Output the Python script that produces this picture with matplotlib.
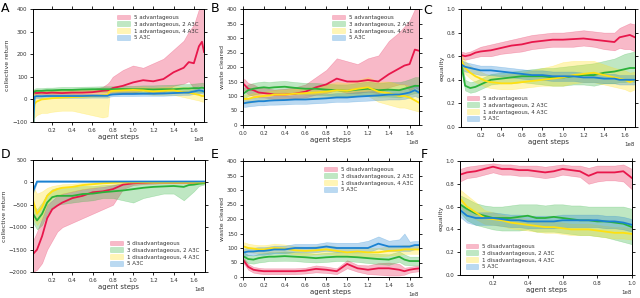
import matplotlib
matplotlib.use('Agg')
import matplotlib.pyplot as plt

# ---- data (x in units of 1e8 agent steps) ----
adv_labels = ['5 advantageous', '3 advantageous, 2 A3C', '1 advantageous, 4 A3C', '5 A3C']
dis_labels = ['5 disadvantageous', '3 disadvantageous, 2 A3C', '1 disadvantageous, 4 A3C', '5 A3C']

# panel A: collective return, advantageous
xa = [0.02, 0.03, 0.05, 0.1, 0.15, 0.2, 0.3, 0.4, 0.5, 0.6, 0.7, 0.75, 0.77, 0.8, 0.9, 1.0, 1.1, 1.2, 1.3, 1.4, 1.5, 1.55, 1.6, 1.65, 1.68, 1.7]
a_red = [30, 30, 28, 30, 28, 30, 28, 30, 30, 32, 38, 40, 42, 50, 60, 75, 85, 80, 90, 120, 140, 165, 160, 235, 255, 210]
a_red_lo = [20, 22, 20, 22, 20, 22, 20, 22, 22, 24, 25, 25, 27, 30, 25, 30, 40, 25, 30, 60, 70, 80, 50, 60, 60, 60]
a_red_hi = [40, 40, 38, 40, 38, 40, 38, 40, 42, 45, 55, 70, 80, 100, 130, 150, 140, 160, 180, 220, 260, 300, 330, 400, 420, 420]
a_grn = [30, 35, 38, 38, 40, 40, 42, 42, 44, 45, 45, 45, 45, 45, 46, 45, 45, 44, 45, 45, 48, 48, 50, 50, 52, 50]
a_grn_lo = [18, 22, 26, 26, 28, 28, 30, 30, 32, 33, 33, 33, 32, 32, 33, 32, 30, 28, 28, 28, 30, 30, 32, 30, 32, 30]
a_grn_hi = [42, 48, 50, 50, 52, 52, 55, 55, 56, 57, 58, 58, 58, 58, 60, 60, 62, 62, 64, 65, 68, 68, 70, 72, 74, 72]
a_yel = [-100, -20, -10, 0, 2, 5, 8, 10, 12, 14, 18, 20, 35, 38, 40, 42, 40, 35, 38, 40, 32, 30, 25, 20, 15, 15]
a_yel_lo = [-100, -80, -70, -60, -60, -55, -50, -50, -60, -70, -80, -75, 25, 25, 28, 30, 25, 20, 20, 20, 10, 5, 0, -5, -10, -10]
a_yel_hi = [30, 30, 35, 38, 40, 42, 45, 45, 45, 45, 45, 45, 45, 48, 50, 52, 55, 52, 55, 58, 55, 55, 50, 45, 40, 40]
a_blu = [-100, 12, 14, 14, 15, 15, 15, 15, 15, 16, 16, 16, 20, 22, 24, 24, 25, 25, 26, 28, 30, 30, 35, 40, 38, 35]
a_blu_lo = [-100, 5, 6, 6, 7, 7, 7, 7, 7, 8, 8, 8, 12, 14, 15, 15, 16, 16, 16, 18, 20, 20, 24, 28, 26, 24]
a_blu_hi = [-90, 20, 22, 22, 23, 23, 23, 23, 23, 24, 24, 24, 28, 30, 33, 33, 34, 34, 36, 38, 40, 40, 46, 52, 50, 46]

# shared x grid for B-E
xs = [0.01, 0.05, 0.1, 0.15, 0.2, 0.25, 0.3, 0.4, 0.5, 0.6, 0.7, 0.8, 0.9, 1.0, 1.1, 1.2, 1.3, 1.4, 1.5, 1.55, 1.6, 1.65, 1.7]

# panel B: waste cleared, advantageous
b_red = [140, 125, 120, 112, 110, 108, 105, 105, 108, 115, 130, 140, 160, 150, 150, 155, 150, 175, 195, 205, 210, 260, 255]
b_red_lo = [120, 105, 100, 95, 95, 92, 90, 90, 92, 95, 105, 110, 120, 110, 110, 115, 110, 130, 140, 140, 120, 130, 120]
b_red_hi = [160, 145, 140, 130, 128, 125, 122, 125, 130, 140, 165, 190, 230, 220, 210, 230, 240, 290, 320, 340, 360, 400, 420]
b_grn = [110, 120, 125, 128, 130, 128, 130, 132, 128, 125, 125, 122, 120, 118, 122, 125, 120, 122, 120, 125, 130, 135, 135]
b_grn_lo = [92, 100, 105, 108, 110, 108, 110, 112, 108, 105, 105, 102, 100, 98, 100, 102, 98, 98, 95, 100, 105, 110, 110]
b_grn_hi = [128, 140, 145, 148, 150, 148, 150, 152, 148, 145, 145, 142, 140, 140, 145, 150, 145, 148, 148, 152, 158, 165, 165]
b_yel = [90, 90, 95, 98, 100, 102, 105, 105, 108, 110, 112, 115, 120, 118, 125, 130, 115, 110, 100, 100, 95, 85, 75]
b_yel_lo = [75, 75, 80, 82, 85, 85, 88, 88, 90, 90, 92, 95, 95, 95, 100, 100, 80, 70, 60, 60, 55, 50, 45]
b_yel_hi = [105, 105, 110, 112, 115, 118, 120, 122, 125, 128, 132, 140, 148, 145, 155, 165, 150, 150, 140, 140, 135, 125, 110]
b_blu = [75, 78, 80, 82, 82, 84, 85, 86, 88, 88, 90, 92, 95, 95, 98, 100, 102, 105, 105, 108, 112, 120, 110]
b_blu_lo = [62, 64, 66, 68, 68, 70, 70, 71, 73, 73, 75, 77, 80, 80, 82, 84, 86, 88, 88, 90, 94, 100, 92]
b_blu_hi = [88, 92, 94, 96, 96, 98, 100, 101, 103, 103, 105, 107, 110, 110, 114, 116, 118, 122, 122, 126, 130, 140, 128]

# panel C: equality, advantageous
c_red = [0.61, 0.60, 0.61, 0.63, 0.64, 0.645, 0.65, 0.67, 0.69, 0.70, 0.72, 0.73, 0.74, 0.74, 0.745, 0.75, 0.74, 0.73, 0.72, 0.76, 0.77, 0.78, 0.76]
c_red_lo = [0.58, 0.57, 0.58, 0.59, 0.60, 0.60, 0.60, 0.62, 0.63, 0.64, 0.66, 0.67, 0.68, 0.68, 0.68, 0.69, 0.68, 0.66, 0.65, 0.67, 0.66, 0.66, 0.64]
c_red_hi = [0.64, 0.63, 0.64, 0.66, 0.68, 0.69, 0.70, 0.72, 0.74, 0.76, 0.78, 0.79, 0.80, 0.80, 0.81, 0.82, 0.81, 0.80, 0.80, 0.84, 0.86, 0.88, 0.87]
c_grn = [0.55, 0.35, 0.33, 0.34, 0.36, 0.38, 0.40, 0.41, 0.42, 0.43, 0.43, 0.43, 0.42, 0.42, 0.43, 0.44, 0.44, 0.46, 0.47, 0.48, 0.49, 0.50, 0.50]
c_grn_lo = [0.50, 0.31, 0.29, 0.30, 0.32, 0.34, 0.36, 0.37, 0.37, 0.38, 0.37, 0.36, 0.35, 0.35, 0.36, 0.36, 0.35, 0.37, 0.37, 0.38, 0.38, 0.39, 0.38]
c_grn_hi = [0.60, 0.40, 0.38, 0.39, 0.41, 0.43, 0.45, 0.46, 0.47, 0.48, 0.49, 0.50, 0.50, 0.51, 0.52, 0.53, 0.54, 0.56, 0.58, 0.60, 0.62, 0.63, 0.64]
c_yel = [0.57, 0.50, 0.46, 0.43, 0.41, 0.39, 0.38, 0.37, 0.37, 0.38, 0.39, 0.40, 0.41, 0.42, 0.44, 0.45, 0.46, 0.44, 0.42, 0.41, 0.40, 0.38, 0.40]
c_yel_lo = [0.52, 0.45, 0.41, 0.38, 0.36, 0.34, 0.33, 0.32, 0.32, 0.33, 0.34, 0.35, 0.35, 0.35, 0.37, 0.38, 0.38, 0.36, 0.34, 0.33, 0.32, 0.30, 0.32]
c_yel_hi = [0.62, 0.56, 0.52, 0.49, 0.47, 0.45, 0.44, 0.44, 0.45, 0.46, 0.48, 0.50, 0.52, 0.55, 0.56, 0.56, 0.56, 0.53, 0.50, 0.49, 0.48, 0.46, 0.47]
c_blu = [0.53, 0.51, 0.50, 0.49, 0.48, 0.48, 0.48, 0.47, 0.46, 0.45, 0.44, 0.44, 0.43, 0.43, 0.43, 0.42, 0.42, 0.41, 0.41, 0.40, 0.40, 0.40, 0.40]
c_blu_lo = [0.49, 0.47, 0.46, 0.45, 0.44, 0.44, 0.44, 0.43, 0.42, 0.41, 0.40, 0.40, 0.39, 0.39, 0.39, 0.38, 0.38, 0.37, 0.37, 0.36, 0.36, 0.36, 0.36]
c_blu_hi = [0.57, 0.55, 0.54, 0.53, 0.52, 0.52, 0.52, 0.51, 0.50, 0.49, 0.48, 0.48, 0.47, 0.47, 0.47, 0.46, 0.46, 0.45, 0.45, 0.44, 0.44, 0.44, 0.44]

# panel D: collective return, disadvantageous
d_red = [-1600, -1500, -1200, -800, -600, -520, -450, -350, -300, -220, -200, -150, -50, -20, -10, 0, 0, 0, 0, 0, 0, 0, 0]
d_red_lo = [-2000, -1950, -1800, -1500, -1300, -1100, -1000, -900, -800, -700, -600, -500, -150, -60, -40, -30, -20, -20, -20, -20, -20, -20, -20]
d_red_hi = [-1300, -1100, -800, -500, -400, -300, -250, -200, -150, -120, -100, -60, -10, 10, 10, 15, 15, 15, 15, 15, 15, 15, 15]
d_grn = [-700, -850, -700, -450, -330, -300, -300, -300, -260, -250, -220, -200, -180, -150, -120, -100, -90, -80, -100, -60, -50, -30, -20]
d_grn_lo = [-900, -1050, -950, -700, -550, -500, -480, -450, -420, -400, -350, -350, -400, -450, -350, -300, -250, -250, -400, -300, -200, -80, -50]
d_grn_hi = [-500, -600, -450, -250, -150, -120, -100, -100, -80, -80, -60, -50, -30, -20, -10, 0, 0, 0, 0, 10, 10, 10, 10]
d_yel = [-400, -700, -550, -300, -200, -150, -120, -100, -60, -40, -20, -10, 0, 0, 0, 0, 0, 0, 0, 0, 0, 0, 0]
d_yel_lo = [-800, -950, -800, -500, -350, -300, -250, -200, -150, -120, -80, -50, -20, -15, -10, -10, -10, -10, -10, -10, -10, -10, -10]
d_yel_hi = [-100, -250, -200, -120, -80, -60, -40, -30, -10, 0, 5, 10, 10, 10, 10, 10, 10, 10, 10, 10, 10, 10, 10]
d_blu = [-200, 20, 20, 20, 20, 20, 20, 20, 20, 20, 20, 20, 20, 20, 20, 20, 20, 20, 20, 20, 20, 20, 20]
d_blu_lo = [-250, 5, 5, 5, 5, 5, 5, 5, 5, 5, 5, 5, 5, 5, 5, 5, 5, 5, 5, 5, 5, 5, 5]
d_blu_hi = [-100, 35, 35, 35, 35, 35, 35, 35, 35, 35, 35, 35, 35, 35, 35, 35, 35, 35, 35, 35, 35, 35, 35]

# panel E: waste cleared, disadvantageous
e_red = [55, 35, 25, 22, 20, 20, 20, 20, 20, 22, 28, 25, 20, 45, 30, 25, 30, 30, 25, 20, 25, 28, 30]
e_red_lo = [45, 25, 15, 12, 10, 10, 10, 10, 10, 12, 16, 14, 10, 30, 18, 10, 8, 5, 5, 8, 15, 18, 20]
e_red_hi = [65, 45, 35, 32, 30, 30, 30, 30, 30, 32, 40, 36, 30, 58, 42, 40, 48, 50, 45, 32, 35, 38, 40]
e_grn = [70, 62, 60, 65, 68, 70, 70, 72, 70, 68, 65, 68, 70, 70, 68, 65, 62, 60, 70, 60, 55, 55, 55]
e_grn_lo = [55, 48, 46, 50, 52, 55, 55, 56, 55, 52, 50, 52, 55, 55, 52, 48, 45, 42, 52, 42, 40, 40, 40]
e_grn_hi = [85, 76, 74, 80, 82, 85, 85, 88, 85, 84, 80, 84, 85, 85, 84, 82, 80, 78, 88, 78, 70, 70, 70]
e_yel = [105, 100, 98, 95, 95, 98, 100, 98, 92, 90, 92, 95, 90, 85, 88, 85, 85, 90, 92, 95, 95, 95, 95]
e_yel_lo = [90, 86, 84, 82, 82, 84, 86, 84, 78, 76, 78, 80, 75, 70, 72, 70, 70, 74, 76, 80, 80, 80, 80]
e_yel_hi = [120, 115, 112, 110, 110, 112, 115, 112, 106, 104, 106, 110, 105, 100, 104, 100, 100, 106, 108, 110, 110, 110, 110]
e_blu = [85, 88, 88, 90, 90, 92, 95, 95, 100, 100, 100, 105, 100, 100, 100, 100, 115, 105, 105, 105, 105, 110, 110]
e_blu_lo = [72, 75, 75, 77, 77, 79, 82, 82, 86, 86, 86, 90, 86, 86, 86, 86, 98, 90, 90, 90, 90, 96, 96]
e_blu_hi = [98, 101, 101, 103, 103, 105, 108, 108, 114, 114, 114, 120, 118, 118, 118, 125, 140, 125, 130, 150, 122, 124, 124]

# panel F: equality, disadvantageous (shorter run)
xf = [0.01, 0.05, 0.1, 0.15, 0.2, 0.25, 0.3, 0.35, 0.4, 0.45, 0.5, 0.55, 0.6, 0.65, 0.7, 0.75, 0.8, 0.85, 0.9, 0.95, 1.0]
f_red = [0.88, 0.90, 0.91, 0.93, 0.95, 0.93, 0.93, 0.92, 0.92, 0.91, 0.90, 0.91, 0.93, 0.92, 0.91, 0.87, 0.90, 0.90, 0.90, 0.91, 0.85]
f_red_lo = [0.82, 0.85, 0.86, 0.88, 0.90, 0.88, 0.88, 0.87, 0.87, 0.86, 0.85, 0.86, 0.88, 0.87, 0.86, 0.80, 0.82, 0.83, 0.83, 0.82, 0.75]
f_red_hi = [0.93, 0.95, 0.96, 0.97, 0.98, 0.97, 0.97, 0.96, 0.96, 0.96, 0.95, 0.96, 0.97, 0.96, 0.96, 0.94, 0.96, 0.96, 0.96, 0.97, 0.93]
f_grn = [0.62, 0.58, 0.54, 0.52, 0.50, 0.50, 0.50, 0.51, 0.52, 0.50, 0.50, 0.51, 0.50, 0.49, 0.48, 0.48, 0.47, 0.47, 0.46, 0.45, 0.42]
f_grn_lo = [0.55, 0.48, 0.44, 0.42, 0.40, 0.39, 0.39, 0.39, 0.40, 0.38, 0.38, 0.38, 0.37, 0.36, 0.35, 0.35, 0.34, 0.33, 0.31, 0.29, 0.27]
f_grn_hi = [0.70, 0.67, 0.63, 0.61, 0.60, 0.60, 0.61, 0.62, 0.62, 0.62, 0.61, 0.62, 0.62, 0.61, 0.61, 0.60, 0.60, 0.60, 0.60, 0.60, 0.58]
f_yel = [0.67, 0.60, 0.55, 0.50, 0.49, 0.48, 0.46, 0.45, 0.44, 0.43, 0.42, 0.42, 0.41, 0.40, 0.40, 0.40, 0.39, 0.38, 0.37, 0.37, 0.36]
f_yel_lo = [0.60, 0.54, 0.49, 0.45, 0.44, 0.43, 0.41, 0.40, 0.39, 0.38, 0.37, 0.37, 0.36, 0.35, 0.35, 0.35, 0.34, 0.33, 0.32, 0.32, 0.31]
f_yel_hi = [0.75, 0.70, 0.64, 0.57, 0.55, 0.53, 0.51, 0.50, 0.49, 0.48, 0.47, 0.47, 0.46, 0.45, 0.45, 0.45, 0.44, 0.43, 0.42, 0.42, 0.41]
f_blu = [0.57, 0.52, 0.50, 0.50, 0.50, 0.49, 0.48, 0.48, 0.47, 0.47, 0.47, 0.47, 0.48, 0.48, 0.48, 0.48, 0.48, 0.47, 0.47, 0.46, 0.44]
f_blu_lo = [0.51, 0.46, 0.44, 0.44, 0.44, 0.43, 0.42, 0.42, 0.41, 0.41, 0.41, 0.41, 0.42, 0.42, 0.42, 0.42, 0.42, 0.41, 0.41, 0.40, 0.38]
f_blu_hi = [0.62, 0.57, 0.55, 0.55, 0.55, 0.54, 0.53, 0.53, 0.52, 0.52, 0.52, 0.52, 0.53, 0.53, 0.53, 0.53, 0.53, 0.52, 0.52, 0.51, 0.49]

colours = ['#e8174b', '#2bb23a', '#ffe010', '#1b82d2']
plt.rcParams['font.family'] = 'DejaVu Sans'

fig = plt.figure(figsize=(6.4, 2.98), dpi=100)
W, H = 640.0, 298.0


def make_axes(l, t, r, b):
    return fig.add_axes([l / W, 1 - b / H, (r - l) / W, (b - t) / H])


def draw_panel(ax, letter, letter_xy, x, series, labels, ylim, yticks, ylabel, xlim, legend_loc):
    xx = [v * 1e8 for v in x]
    for (mid, lo, hi), col, lab in zip(series, colours, labels):
        ax.fill_between(xx, lo, hi, color=col, alpha=0.3, lw=0.4, label=lab)
    for (mid, lo, hi), col in zip(series, colours):
        ax.plot(xx, mid, color=col, lw=1.3)
    ax.set_xlim(xlim[0] * 1e8, xlim[1] * 1e8)
    ax.set_ylim(ylim)
    ax.set_yticks(yticks)
    ax.set_ylabel(ylabel, fontsize=4.5, labelpad=1.5, color='#333333')
    ax.set_xlabel('agent steps', fontsize=5, labelpad=1, color='#333333')
    ax.tick_params(labelsize=4, length=2.5, width=0.6, pad=1.5, top=True, right=True,
                   labelcolor='#333333')
    ax.xaxis.get_offset_text().set_fontsize(4)
    for s in ax.spines.values():
        s.set_linewidth(0.7)
    leg = ax.legend(loc=legend_loc, fontsize=4, frameon=False, handlelength=2.2,
                    handleheight=0.9, labelspacing=0.3, borderaxespad=0.6)
    for t in leg.get_texts():
        t.set_color('#333333')
    fig.text(letter_xy[0] / W, 1 - letter_xy[1] / H, letter, fontsize=9, va='center', ha='left')


axA = make_axes(33, 9, 204, 122)
draw_panel(axA, 'A', (1, 8), xa,
           [(a_red, a_red_lo, a_red_hi), (a_grn, a_grn_lo, a_grn_hi),
            (a_yel, a_yel_lo, a_yel_hi), (a_blu, a_blu_lo, a_blu_hi)],
           adv_labels, (-100, 400), [-100, 0, 100, 200, 300, 400], 'collective return',
           (0.015, 1.7), 'upper right')

axB = make_axes(243, 9, 419, 125)
draw_panel(axB, 'B', (211, 8), xs,
           [(b_red, b_red_lo, b_red_hi), (b_grn, b_grn_lo, b_grn_hi),
            (b_yel, b_yel_lo, b_yel_hi), (b_blu, b_blu_lo, b_blu_hi)],
           adv_labels, (0, 400), list(range(0, 401, 50)), 'waste cleared',
           (0.0, 1.69), 'upper right')

axC = make_axes(461, 9, 635, 127)
draw_panel(axC, 'C', (423, 10), xs,
           [(c_red, c_red_lo, c_red_hi), (c_grn, c_grn_lo, c_grn_hi),
            (c_yel, c_yel_lo, c_yel_hi), (c_blu, c_blu_lo, c_blu_hi)],
           adv_labels, (0, 1.0), [0, 0.2, 0.4, 0.6, 0.8, 1.0], 'equality',
           (0.01, 1.7), 'lower left')

axD = make_axes(33, 160, 205, 272)
draw_panel(axD, 'D', (1, 155), xs,
           [(d_red, d_red_lo, d_red_hi), (d_grn, d_grn_lo, d_grn_hi),
            (d_yel, d_yel_lo, d_yel_hi), (d_blu, d_blu_lo, d_blu_hi)],
           dis_labels, (-2000, 500), [-2000, -1500, -1000, -500, 0, 500], 'collective return',
           (0.01, 1.71), 'lower right')

axE = make_axes(243, 161, 419, 277)
draw_panel(axE, 'E', (211, 155), xs,
           [(e_red, e_red_lo, e_red_hi), (e_grn, e_grn_lo, e_grn_hi),
            (e_yel, e_yel_lo, e_yel_hi), (e_blu, e_blu_lo, e_blu_hi)],
           dis_labels, (0, 400), list(range(0, 401, 50)), 'waste cleared',
           (0.0, 1.69), 'upper right')

axF = make_axes(460, 161, 632, 275)
draw_panel(axF, 'F', (421, 155), xf,
           [(f_red, f_red_lo, f_red_hi), (f_grn, f_grn_lo, f_grn_hi),
            (f_yel, f_yel_lo, f_yel_hi), (f_blu, f_blu_lo, f_blu_hi)],
           dis_labels, (0, 1.0), [0, 0.2, 0.4, 0.6, 0.8, 1.0], 'equality',
           (0.01, 1.0), 'lower left')

fig.savefig('out.png', dpi=100)
